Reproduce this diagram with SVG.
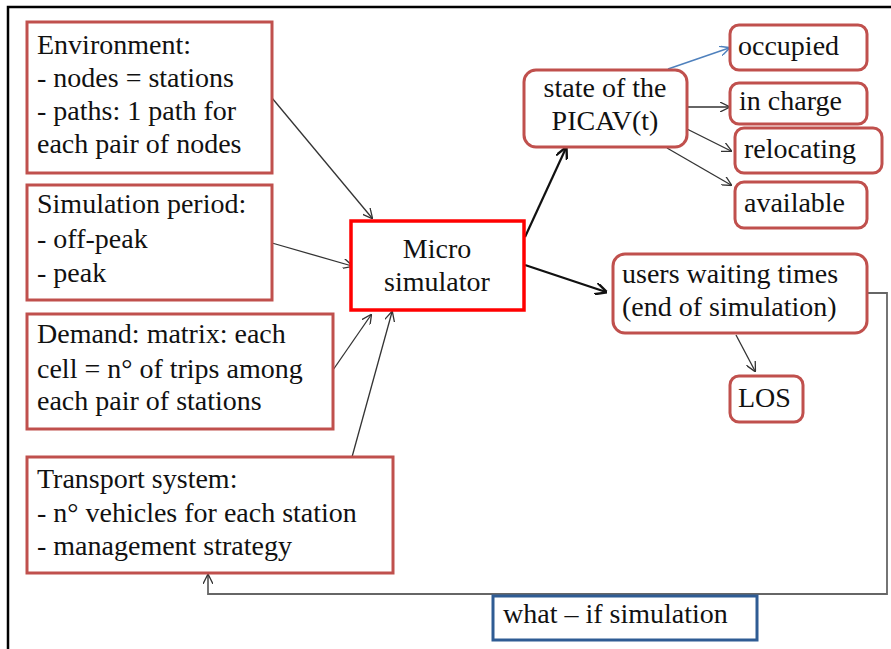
<svg xmlns="http://www.w3.org/2000/svg" width="891" height="649" viewBox="0 0 891 649">
<defs>
<style>
text{font-family:'Liberation Serif',Tinos,'Times New Roman',Times,serif;font-size:28px;fill:#111;}
.box{fill:#fff;stroke:#c0504d;stroke-width:3;}
.c{fill:none;stroke:#333;stroke-width:1.3;}
.ck{fill:none;stroke:#111;stroke-width:2.2;}
</style>
<marker id="a" viewBox="0 0 10 10" refX="9" refY="5" markerWidth="10" markerHeight="10" markerUnits="userSpaceOnUse" orient="auto"><path d="M0,0 L10,5 L0,10" fill="none" stroke="#333" stroke-width="1.3"/></marker>
<marker id="ak" viewBox="0 0 10 10" refX="9" refY="5" markerWidth="12" markerHeight="12" markerUnits="userSpaceOnUse" orient="auto"><path d="M0,0 L10,5 L0,10" fill="none" stroke="#111" stroke-width="2"/></marker>
<marker id="ab" viewBox="0 0 10 10" refX="9" refY="5" markerWidth="10" markerHeight="10" markerUnits="userSpaceOnUse" orient="auto"><path d="M0,0 L10,5 L0,10" fill="none" stroke="#4f81bd" stroke-width="1.5"/></marker>
</defs>
<rect width="891" height="649" fill="#fff"/>
<path d="M8,649 V7 H891" fill="none" stroke="#000" stroke-width="2.5"/>
<g id="connectors">
<path class="c" d="M272,98 L372,218" marker-end="url(#a)"/>
<path class="c" d="M272,243 L352,266" marker-end="url(#a)"/>
<path class="c" d="M333,370 L371,315" marker-end="url(#a)"/>
<path class="c" d="M352,457 L392,312" marker-end="url(#a)"/>
<path class="ck" d="M525,237 L566,148" marker-end="url(#ak)"/>
<path class="ck" d="M525,265 L606,292" marker-end="url(#ak)"/>
<path d="M668,69 L729,48" fill="none" stroke="#4f81bd" stroke-width="1.5" marker-end="url(#ab)"/>
<path class="c" d="M687,107 L729,107" marker-end="url(#a)"/>
<path class="c" d="M687,129 L731,151" marker-end="url(#a)"/>
<path class="c" d="M667,148 L731,185" marker-end="url(#a)"/>
<path class="c" d="M736,335 L755,371" marker-end="url(#a)"/>
<path d="M867,293 H887 V594 H208 V575" fill="none" stroke="#666" stroke-width="1.8" marker-end="url(#a)"/>
</g>
<g id="environment" font-family="Liberation Serif">
<rect class="box" x="27" y="22" width="245" height="151"/>
<text x="37" y="54">Environment:</text>
<text x="37" y="87">- nodes = stations</text>
<text x="37" y="120">- paths: 1 path for</text>
<text x="37" y="153">each pair of nodes</text>
</g>
<g id="simulation-period">
<rect class="box" x="27" y="185" width="245" height="115"/>
<text x="37" y="213">Simulation period:</text>
<text x="37" y="248">- off-peak</text>
<text x="37" y="282">- peak</text>
</g>
<g id="demand">
<rect class="box" x="27" y="314" width="306" height="115"/>
<text x="37" y="343">Demand: matrix: each</text>
<text x="37" y="378">cell = n° of trips among</text>
<text x="37" y="410">each pair of stations</text>
</g>
<g id="transport">
<rect class="box" x="27" y="457" width="366" height="116"/>
<text x="37" y="488">Transport system:</text>
<text x="37" y="522">- n° vehicles for each station</text>
<text x="37" y="555">- management strategy</text>
</g>
<g id="micro">
<rect x="351" y="221" width="173" height="89" fill="#fff" stroke="#ff0000" stroke-width="3.5"/>
<text x="437" y="258" text-anchor="middle">Micro</text>
<text x="437" y="291" text-anchor="middle">simulator</text>
</g>
<g id="state">
<rect class="box" x="524" y="70" width="163" height="77" rx="12"/>
<text x="605" y="97" text-anchor="middle">state of the</text>
<text x="605" y="130" text-anchor="middle">PICAV(t)</text>
</g>
<g id="occupied">
<rect class="box" x="730" y="25" width="137" height="45" rx="9"/>
<text x="738" y="55">occupied</text>
</g>
<g id="in-charge">
<rect class="box" x="730" y="83" width="137" height="41" rx="9"/>
<text x="739" y="110">in charge</text>
</g>
<g id="relocating">
<rect class="box" x="735" y="128" width="147" height="45" rx="9"/>
<text x="744" y="158">relocating</text>
</g>
<g id="available">
<rect class="box" x="735" y="182" width="132" height="46" rx="9"/>
<text x="744" y="212">available</text>
</g>
<g id="users">
<rect class="box" x="613" y="254" width="254" height="79" rx="12"/>
<text x="622" y="283">users waiting times</text>
<text x="622" y="316">(end of simulation)</text>
</g>
<g id="los">
<rect class="box" x="730" y="376" width="73" height="46" rx="9"/>
<text x="738" y="407">LOS</text>
</g>
<g id="what-if">
<rect x="493" y="596" width="264" height="44" fill="#fff" stroke="#2f5c94" stroke-width="3"/>
<text x="503" y="623">what – if simulation</text>
</g>
</svg>
